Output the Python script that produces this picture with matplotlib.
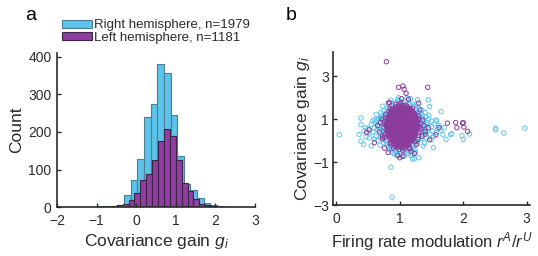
import numpy as np
import matplotlib
matplotlib.use("Agg")
import matplotlib.pyplot as plt
from matplotlib.patches import Patch

plt.rcParams['font.family'] = ['Liberation Sans', 'DejaVu Sans']
plt.rcParams['mathtext.fontset'] = 'custom'
plt.rcParams['mathtext.rm'] = 'Liberation Sans'
plt.rcParams['mathtext.it'] = 'Liberation Sans:italic'

# ---- histogram data (panel a) ----
right_start, right_width = -0.982, 0.168
right_counts = [2, 2, 4, 5, 31, 73, 129, 240, 274, 380, 356, 246, 135, 62, 45, 24, 12, 6, 3]
left_start, left_width = -0.79, 0.149
left_counts = [1, 4, 6, 8, 18, 37, 71, 89, 126, 176, 208, 188, 126, 64, 43, 21, 9, 5, 2]
legend_labels = ['Right hemisphere, n=1979', 'Left hemisphere, n=1181']

# ---- scatter data (panel b) ----
# blue (right hemisphere): outliers and the cloud around the core
blue_x = [0.05, 0.39, 0.39, 0.36, 0.39, 0.43, 0.47, 0.52, 0.86, 0.88, 2.97, 2.51, 2.64, 2.51,
          2.10, 1.98, 2.00, 1.82, 1.80, 1.73, 1.68, 1.65, 1.57, 1.47, 1.45, 1.17, 1.22, 1.23,
          1.23, 1.03, 0.55, 0.60, 0.73, 1.50, 1.37, 1.53, 1.35, 1.42,
          0.93, 1.00, 1.08, 1.15, 0.88, 1.22, 1.30, 0.80, 0.75, 1.35, 1.28, 0.98, 1.12, 0.70, 1.40,
          0.72, 0.66, 0.62, 0.68, 0.60, 0.65, 0.58, 0.70, 0.62, 0.74, 0.66, 0.75, 0.70, 0.76, 0.74,
          0.72, 0.76, 0.78, 0.55, 0.50, 0.52, 0.46, 0.44,
          1.30, 1.34, 1.38, 1.32, 1.42, 1.36, 1.45, 1.33, 1.40, 1.48, 1.35, 1.42, 1.30, 1.50, 1.55,
          1.60, 1.52, 1.58, 1.62, 1.50, 1.45, 1.65, 1.70, 1.32, 1.29, 1.30,
          0.85, 0.92, 1.00, 1.08, 1.15, 1.22, 0.88, 1.12, 1.18, 1.25, 1.30, 0.95, 0.80, 1.28, 1.20,
          0.79, 0.80, 1.27, 1.29, 0.78, 1.25, 0.85, 1.20, 0.83, 1.26, 0.82, 1.31, 0.90, 1.16,
          0.77, 0.75, 0.74, 0.73, 0.74, 0.76, 0.78, 0.80, 0.83, 0.87,
          1.30, 1.32, 1.33, 1.34, 1.33, 1.31, 1.29, 1.26, 1.22, 1.18,
          0.71, 0.69, 0.68, 0.70, 1.36, 1.38, 1.37, 1.35, 0.95, 1.02, 1.09, 1.05, 0.98, 0.92,
          0.84, 1.24, 0.88, 1.21, 1.12, 0.97, 0.67, 1.41, 0.64, 1.44,
          0.63, 0.57, 0.60, 0.69, 1.46, 1.53, 1.58, 1.39, 1.27, 1.14, 0.86, 0.91, 1.07, 1.19]
blue_y = [0.27, 1.05, 0.74, 0.28, -0.03, -0.17, 0.17, 0.12, -1.24, -2.63, 0.58, 0.58, 0.35, 0.50,
          0.31, 0.23, 0.05, 0.32, 0.28, 0.05, 0.28, 1.35, 0.96, 1.58, 1.90, 1.95, 1.58, -0.60,
          -0.85, -0.70, -0.25, 0.96, 1.60, 0.04, -0.26, -0.32, 1.20, 1.12,
          1.75, 1.85, 1.80, 1.70, 1.62, 1.60, 1.50, 1.50, 1.40, 1.42, 1.90, 2.00, 1.98, 1.30, 1.30,
          1.15, 1.00, 0.85, 0.70, 0.60, 0.50, 0.40, 0.30, 0.20, 0.10, 0.00, -0.10, 1.05, 0.95, 0.80,
          0.55, 0.42, 0.20, 0.75, 0.55, 0.35, 0.60, 0.45,
          1.20, 1.05, 0.95, 0.85, 0.75, 0.62, 0.55, 0.48, 0.38, 0.30, 0.22, 0.12, 0.05, 0.65, 0.78,
          0.55, 0.45, 0.38, 0.70, 0.90, 1.00, 0.50, 0.60, 1.30, 0.70, 0.35,
          -0.30, -0.42, -0.50, -0.45, -0.38, -0.30, -0.55, -0.60, -0.70, -0.55, -0.80, -0.65, -0.20,
          -0.15, -0.85,
          1.30, 1.20, 1.30, 1.10, 0.00, 0.00, -0.20, -0.20, 1.45, 1.45, 0.65, 0.60, 1.62, 1.60,
          1.25, 1.05, 0.85, 0.65, 0.45, 0.25, 0.05, -0.12, -0.28, -0.40,
          1.35, 1.15, 0.95, 0.75, 0.55, 0.35, 0.15, -0.05, -0.22, -0.38,
          1.10, 0.90, 0.50, 0.15, 1.05, 0.80, 0.45, 0.10, -0.52, -0.58, -0.50, 1.78, 1.82, 1.72,
          -0.42, -0.42, 1.65, 1.68, -0.52, 1.90, 0.65, 0.60, 0.95, 0.85,
          1.22, 0.92, 0.08, -0.22, 1.18, 0.20, 0.92, -0.12, 1.72, 1.88, 1.88, -0.62, -0.72, -0.62]

# purple (left hemisphere): outliers and points at the edge of the core
purple_x = [0.79, 0.98, 1.05, 1.07, 1.44, 1.10, 0.84, 0.82, 1.03, 1.14, 1.30, 1.32, 1.75, 1.88,
            1.99, 2.00, 2.01, 1.90, 2.07, 0.48, 0.52, 0.60, 1.00, 0.97, 1.05, 1.23, 1.18, 0.82,
            0.76, 1.47, 1.57, 1.40, 1.62, 0.73, 0.70,
            0.78, 0.76, 0.75, 0.77, 1.30, 1.32, 1.33, 1.30, 0.85, 1.20, 0.90, 1.15, 1.05, 0.85,
            1.25, 1.38, 1.45, 0.65, 0.68, 1.40, 1.00, 1.10, 0.94,
            0.78, 0.77, 0.79, 0.76, 1.29, 1.31, 1.30, 1.28, 0.83, 0.88, 1.18, 1.23, 0.93, 1.13,
            1.36, 1.35, 0.72, 0.73, 1.26, 0.86, 1.16, 0.99, 1.08, 1.02]
purple_y = [3.67, 2.48, 2.54, 2.39, 2.48, 2.20, 1.77, 1.75, 1.95, 1.93, 1.74, 1.43, 0.81, 0.84,
            0.81, 0.84, 0.63, 0.60, 0.43, 0.38, 0.50, -0.10, -0.80, -0.70, -0.73, -0.60, -0.50,
            -0.55, -0.35, 0.04, 0.27, 0.43, 0.60, 0.08, 0.84,
            1.20, 0.90, 0.60, 0.30, 1.00, 0.80, 0.55, 0.25, 1.50, 1.50, -0.35, -0.30, -0.45,
            -0.15, -0.05, 0.70, 0.60, 0.70, 0.40, 0.30, 1.70, 1.65, 1.68,
            1.05, 0.75, 0.45, 0.15, 1.15, 0.65, 0.40, 0.05, 1.35, 1.45, 1.40, 1.25, -0.28, -0.22,
            0.95, 0.20, 1.00, 0.20, -0.18, -0.10, -0.38, -0.42, -0.36, 1.75]

# dense purple core, one row per y value
purple_core = [
    (1.62, [0.98, 1.03, 1.07]),
    (1.56, [0.94, 0.99, 1.03, 1.08, 1.12]),
    (1.50, [0.91, 0.95, 0.99, 1.03, 1.07, 1.11, 1.15]),
    (1.44, [0.89, 0.93, 0.97, 1.01, 1.05, 1.09, 1.13, 1.17]),
    (1.38, [0.87, 0.91, 0.95, 0.99, 1.03, 1.07, 1.11, 1.15, 1.19]),
    (1.32, [0.86, 0.90, 0.94, 0.98, 1.02, 1.06, 1.10, 1.14, 1.18, 1.21]),
    (1.26, [0.85, 0.88, 0.92, 0.96, 1.00, 1.04, 1.08, 1.12, 1.16, 1.20, 1.23]),
    (1.20, [0.84, 0.87, 0.91, 0.95, 0.99, 1.03, 1.07, 1.11, 1.15, 1.19, 1.23]),
    (1.14, [0.83, 0.86, 0.90, 0.94, 0.98, 1.02, 1.06, 1.10, 1.14, 1.18, 1.22, 1.25]),
    (1.08, [0.82, 0.85, 0.89, 0.93, 0.97, 1.01, 1.05, 1.09, 1.13, 1.17, 1.21, 1.25]),
    (1.02, [0.82, 0.85, 0.88, 0.92, 0.96, 1.00, 1.04, 1.08, 1.12, 1.16, 1.20, 1.24, 1.26]),
    (0.96, [0.81, 0.84, 0.88, 0.92, 0.96, 1.00, 1.04, 1.08, 1.12, 1.16, 1.20, 1.24, 1.27]),
    (0.90, [0.81, 0.84, 0.87, 0.91, 0.95, 0.99, 1.03, 1.07, 1.11, 1.15, 1.19, 1.23, 1.27]),
    (0.84, [0.80, 0.83, 0.87, 0.91, 0.95, 0.99, 1.03, 1.07, 1.11, 1.15, 1.19, 1.23, 1.27]),
    (0.78, [0.80, 0.83, 0.86, 0.90, 0.94, 0.98, 1.02, 1.06, 1.10, 1.14, 1.18, 1.22, 1.26, 1.28]),
    (0.72, [0.80, 0.83, 0.87, 0.91, 0.95, 0.99, 1.03, 1.07, 1.11, 1.15, 1.19, 1.23, 1.27]),
    (0.66, [0.80, 0.83, 0.86, 0.90, 0.94, 0.98, 1.02, 1.06, 1.10, 1.14, 1.18, 1.22, 1.26, 1.28]),
    (0.60, [0.80, 0.83, 0.87, 0.91, 0.95, 0.99, 1.03, 1.07, 1.11, 1.15, 1.19, 1.23, 1.27]),
    (0.54, [0.81, 0.84, 0.88, 0.92, 0.96, 1.00, 1.04, 1.08, 1.12, 1.16, 1.20, 1.24, 1.27]),
    (0.48, [0.81, 0.84, 0.87, 0.91, 0.95, 0.99, 1.03, 1.07, 1.11, 1.15, 1.19, 1.23, 1.26]),
    (0.42, [0.81, 0.85, 0.89, 0.93, 0.97, 1.01, 1.05, 1.09, 1.13, 1.17, 1.21, 1.25]),
    (0.36, [0.82, 0.85, 0.88, 0.92, 0.96, 1.00, 1.04, 1.08, 1.12, 1.16, 1.20, 1.24]),
    (0.30, [0.82, 0.86, 0.90, 0.94, 0.98, 1.02, 1.06, 1.10, 1.14, 1.18, 1.22, 1.25]),
    (0.24, [0.83, 0.87, 0.91, 0.95, 0.99, 1.03, 1.07, 1.11, 1.15, 1.19, 1.23]),
    (0.18, [0.84, 0.88, 0.92, 0.96, 1.00, 1.04, 1.08, 1.12, 1.16, 1.20, 1.23]),
    (0.12, [0.85, 0.89, 0.93, 0.97, 1.01, 1.05, 1.09, 1.13, 1.17, 1.21]),
    (0.06, [0.86, 0.90, 0.94, 0.98, 1.02, 1.06, 1.10, 1.14, 1.18, 1.21]),
    (0.00, [0.87, 0.91, 0.95, 0.99, 1.03, 1.07, 1.11, 1.15, 1.19]),
    (-0.06, [0.89, 0.93, 0.97, 1.01, 1.05, 1.09, 1.13, 1.17]),
    (-0.12, [0.90, 0.94, 0.98, 1.02, 1.06, 1.10, 1.14]),
    (-0.18, [0.92, 0.96, 1.00, 1.04, 1.08, 1.12]),
    (-0.24, [0.95, 0.99, 1.03, 1.07, 1.11]),
    (-0.30, [0.98, 1.02, 1.06]),
]

blue_bar = '#5cc3ea'
blue_edge = '#4d7f94'
purple_bar = '#8e3f9f'
purple_edge = '#3f2347'
blue_pt = '#62c6ee'
purple_pt = '#8b3d9e'
dark = '#2b2b2b'

fig = plt.figure(figsize=(5.38, 2.56), dpi=100)

# ---------------- panel a ----------------
ax1 = fig.add_axes([0.106, 0.191, 0.368, 0.602])
r_edges = right_start + right_width * np.arange(len(right_counts))
l_edges = left_start + left_width * np.arange(len(left_counts))
ax1.bar(r_edges, right_counts, width=right_width, align='edge', color=blue_bar,
        edgecolor=blue_edge, linewidth=0.8)
ax1.bar(l_edges, left_counts, width=left_width, align='edge', color=purple_bar,
        edgecolor=purple_edge, linewidth=0.8)
ax1.set_xlim(-2, 3)
ax1.set_ylim(0, 410)
ax1.set_xticks([-2, -1, 0, 1, 2, 3])
ax1.set_yticks([0, 100, 200, 300, 400])
ax1.set_ylabel('Count', fontsize=12.5, color=dark, labelpad=3)
ax1.set_xlabel(r'Covariance gain $g_i$', fontsize=12.5, color=dark, labelpad=3)

handles = [Patch(facecolor=blue_bar, edgecolor=blue_edge, linewidth=0.8),
           Patch(facecolor=purple_bar, edgecolor=purple_edge, linewidth=0.8)]
fig.legend(handles, legend_labels, loc='upper left', bbox_to_anchor=(0.115, 0.925),
           frameon=False, fontsize=9.5, handlelength=2.3, handleheight=0.55,
           handletextpad=0.1, labelspacing=0.05, borderpad=0, borderaxespad=0,
           labelcolor=dark)

# ---------------- panel b ----------------
ax2 = fig.add_axes([0.619, 0.199, 0.366, 0.596])
core_x = [x for y, row in purple_core for x in row]
core_y = [y for y, row in purple_core for x in row]
ax2.scatter(blue_x, blue_y, s=10, facecolors='none', edgecolors=blue_pt, linewidths=0.7)
ax2.scatter(purple_x + core_x, purple_y + core_y, s=10, facecolors='none',
            edgecolors=purple_pt, linewidths=0.7)
ax2.set_xlim(-0.05, 3.05)
ax2.set_ylim(-3, 4.1)
ax2.set_xticks([0, 1, 2, 3])
ax2.set_yticks([-3, -1, 1, 3])
ax2.set_ylabel(r'Covariance gain $g_i$', fontsize=12.5, color=dark, labelpad=1)
ax2.set_xlabel(r'Firing rate modulation $r^A/r^U$', fontsize=12, color=dark, labelpad=3)

for ax in (ax1, ax2):
    for side in ('top', 'right'):
        ax.spines[side].set_visible(False)
    for side in ('left', 'bottom'):
        ax.spines[side].set_color(dark)
        ax.spines[side].set_linewidth(1.2)
    ax.tick_params(direction='in', length=3, width=1, colors=dark, labelsize=10, pad=3)
ax1.tick_params(axis='x', pad=5)
ax1.tick_params(axis='y', pad=4)
ax2.tick_params(axis='x', pad=5)

fig.text(0.056, 0.94, 'a', fontsize=14, color='black', va='center', ha='center')
fig.text(0.541, 0.94, 'b', fontsize=14, color='black', va='center', ha='center')

fig.savefig('out.png', dpi=100)
